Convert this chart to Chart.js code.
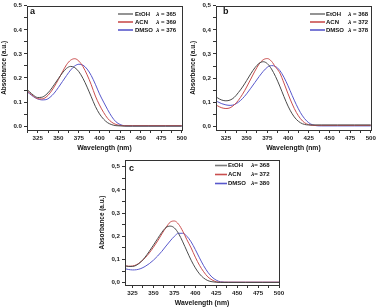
<!DOCTYPE html>
<html>
<head>
<meta charset="utf-8">
<script src="https://cdn.jsdelivr.net/npm/chart.js@4"></script>
<style>
  body { margin: 0; background: #fff; width: 378px; height: 307px; position: relative; overflow: hidden; }
  canvas { position: absolute; }
</style>
</head>
<body>
<canvas id="panelA" width="189" height="152" style="left:0px;top:0px;width:189px;height:152px"></canvas>
<canvas id="panelB" width="189" height="152" style="left:189px;top:0px;width:189px;height:152px"></canvas>
<canvas id="panelC" width="189" height="155" style="left:98px;top:152px;width:189px;height:155px"></canvas>
<script>
// wavelength grid (nm)
const wavelength = [312, 315, 320, 325, 330, 335, 340, 345, 350, 355, 360, 365, 370, 375, 380, 385, 390, 395, 400, 405, 410, 415, 420, 425, 430, 440, 460, 480, 500];

// panel a
const etohA = [0.152, 0.143, 0.128, 0.119, 0.120, 0.130, 0.148, 0.172, 0.197, 0.221, 0.240, 0.248, 0.243, 0.226, 0.198, 0.162, 0.122, 0.082, 0.051, 0.029, 0.014, 0.006, 0.002, 0.001, 0, 0, 0, 0, 0];
const acnA  = [0.147, 0.138, 0.124, 0.114, 0.113, 0.120, 0.138, 0.163, 0.193, 0.225, 0.255, 0.274, 0.280, 0.270, 0.247, 0.213, 0.172, 0.125, 0.088, 0.057, 0.032, 0.016, 0.007, 0.003, 0.002, 0.002, 0.002, 0.002, 0.002];
const dmsoA = [0.143, 0.135, 0.122, 0.113, 0.109, 0.110, 0.120, 0.137, 0.160, 0.185, 0.210, 0.233, 0.250, 0.257, 0.253, 0.237, 0.210, 0.174, 0.134, 0.100, 0.068, 0.039, 0.018, 0.007, 0.002, 0.001, 0.001, 0.001, 0.001];

// panel b
const etohB = [0.126, 0.118, 0.109, 0.106, 0.109, 0.120, 0.140, 0.163, 0.190, 0.218, 0.243, 0.261, 0.268, 0.260, 0.238, 0.206, 0.167, 0.124, 0.084, 0.052, 0.029, 0.015, 0.008, 0.006, 0.006, 0.006, 0.006, 0.006, 0.006];
const acnB  = [0.092, 0.085, 0.077, 0.074, 0.077, 0.089, 0.108, 0.133, 0.163, 0.196, 0.229, 0.258, 0.276, 0.281, 0.270, 0.245, 0.222, 0.180, 0.135, 0.093, 0.058, 0.032, 0.015, 0.007, 0.004, 0.004, 0.004, 0.004, 0.004];
const dmsoB = [0.108, 0.102, 0.094, 0.089, 0.087, 0.090, 0.100, 0.115, 0.135, 0.158, 0.182, 0.206, 0.228, 0.245, 0.252, 0.248, 0.232, 0.204, 0.168, 0.128, 0.090, 0.057, 0.032, 0.015, 0.006, 0.002, 0.002, 0.002, 0.002];

// panel c
const etohC = [0.080, 0.075, 0.070, 0.070, 0.076, 0.090, 0.110, 0.135, 0.162, 0.190, 0.217, 0.238, 0.244, 0.236, 0.212, 0.176, 0.136, 0.097, 0.064, 0.038, 0.020, 0.009, 0.004, 0.002, 0.001, 0.001, 0.001, 0.001, 0.001];
const acnC  = [0.077, 0.074, 0.071, 0.072, 0.078, 0.090, 0.107, 0.128, 0.153, 0.180, 0.210, 0.238, 0.261, 0.266, 0.252, 0.222, 0.185, 0.150, 0.110, 0.075, 0.047, 0.025, 0.012, 0.004, 0.002, 0.002, 0.002, 0.002, 0.002];
const dmsoC = [0.064, 0.061, 0.057, 0.055, 0.056, 0.061, 0.070, 0.082, 0.097, 0.115, 0.135, 0.158, 0.180, 0.200, 0.213, 0.213, 0.200, 0.176, 0.143, 0.107, 0.073, 0.045, 0.024, 0.011, 0.004, 0.002, 0.002, 0.002, 0.002];

const solvents = ["EtOH", "ACN", "DMSO"];
const lambdaA = [" = 365", " = 369", " = 376"];
const lambdaB = [" = 368", " = 372", " = 378"];
const lambdaC = ["= 368", "= 372", "= 380"];

const xMajor = [325, 350, 375, 400, 425, 450, 475, 500];
const xLabels = ["325", "350", "375", "400", "425", "450", "475", "500"];
const yMajor = [0, 0.1, 0.2, 0.3, 0.4, 0.5];
const yLabelsDot = ["0.0", "0.1", "0.2", "0.3", "0.4", "0.5"];
const yLabelsComma = ["0,0", "0,1", "0,2", "0,3", "0,4", "0,5"];

const colors = ["#4b4b4b", "#c94e4e", "#5858cc"];
const legendColors = ["#7a7a7a", "#c94e4e", "#5858cc"];
const FONT = "'Liberation Sans', Arial, sans-serif";

function panel(id, letter, series, lambdas, yLabels, cfg) {
  const xTicks = [];
  for (let v = 312.5; v <= 500; v += 12.5) if (v >= cfg.xMin) xTicks.push(v);
  const yTicks = [];
  for (let k = 0; k <= 10; k++) yTicks.push(k * 0.05);

  const decor = {
    id: 'decor_' + id,
    afterDraw(chart) {
      const ctx = chart.ctx;
      const a = chart.chartArea;
      ctx.save();
      ctx.strokeStyle = '#333';
      ctx.lineWidth = 1;
      ctx.strokeRect(Math.round(a.left) + 0.5, Math.round(a.top) + 0.5,
        Math.round(a.right - a.left), Math.round(a.bottom - a.top));

      // panel letter
      ctx.fillStyle = '#111';
      ctx.font = "bold 9px " + FONT;
      ctx.textBaseline = 'middle';
      ctx.fillText(letter, cfg.letter[0], cfg.letter[1]);

      // legend
      for (let i = 0; i < 3; i++) {
        const y = cfg.leg.y0 + i * cfg.leg.gap;
        ctx.strokeStyle = legendColors[i];
        ctx.lineWidth = 1.6;
        ctx.beginPath();
        ctx.moveTo(cfg.leg.l0, y);
        ctx.lineTo(cfg.leg.l1, y);
        ctx.stroke();
        ctx.fillStyle = '#111';
        ctx.font = "bold 6px " + FONT;
        ctx.fillText(solvents[i], cfg.leg.t, y);
        ctx.font = "italic bold 6px " + FONT;
        ctx.fillText("λ", cfg.leg.lam, y);
        const w = ctx.measureText("λ").width;
        ctx.font = "bold 6px " + FONT;
        ctx.fillText(lambdas[i], cfg.leg.lam + w, y);
      }
      ctx.restore();
    }
  };

  new Chart(document.getElementById(id), {
    type: 'line',
    data: {
      datasets: series.map((s, i) => ({
        label: solvents[i],
        data: wavelength.map((w, j) => ({ x: w, y: s[j] })),
        borderColor: colors[i],
        borderWidth: 1,
        pointRadius: 0,
        cubicInterpolationMode: 'monotone',
        fill: false
      }))
    },
    options: {
      responsive: false,
      animation: false,
      events: [],
      layout: { padding: { left: 0, top: cfg.top, right: cfg.right, bottom: 0 } },
      plugins: { legend: { display: false }, tooltip: { enabled: false } },
      scales: {
        x: {
          type: 'linear',
          min: cfg.xMin,
          max: 500,
          afterBuildTicks: (sc) => { sc.ticks = xTicks.map(v => ({ value: v })); },
          afterFit: (sc) => { sc.height = cfg.xH; },
          border: { display: false },
          grid: { drawOnChartArea: false, tickLength: 3, color: '#333' },
          ticks: {
            autoSkip: false, maxRotation: 0, padding: 2, color: '#222',
            font: { family: FONT, size: 6.2, weight: 'bold' },
            callback: (v) => { const k = xMajor.indexOf(v); return k < 0 ? '' : xLabels[k]; }
          },
          title: { display: true, text: 'Wavelength (nm)', color: '#111', padding: 0,
            font: { family: FONT, size: 6.8, weight: 'bold' } }
        },
        y: {
          min: cfg.yMin,
          max: cfg.yMax,
          afterBuildTicks: (sc) => { sc.ticks = yTicks.map(v => ({ value: v })); },
          afterFit: (sc) => { sc.width = 27; },
          border: { display: false },
          grid: { drawOnChartArea: false, tickLength: 3, color: '#333' },
          ticks: {
            autoSkip: false, padding: 2, color: '#222',
            font: { family: FONT, size: 6.2, weight: 'bold' },
            callback: (v) => {
              const k = yMajor.findIndex(m => Math.abs(m - v) < 1e-6);
              return k < 0 ? '' : yLabels[k];
            }
          },
          title: { display: true, text: 'Absorbance (a.u.)', color: '#111', padding: 0,
            font: { family: FONT, size: 6.4, weight: 'bold' } }
        }
      }
    },
    plugins: [decor]
  });
}

panel('panelA', 'a', [etohA, acnA, dmsoA], lambdaA, yLabelsDot, {
  xMin: 312, yMin: -0.016, yMax: 0.5, top: 2, right: 7, xH: 22,
  letter: [30, 12], leg: { y0: 14, gap: 8, l0: 118, l1: 133, t: 135, lam: 156 }
});
panel('panelB', 'b', [etohB, acnB, dmsoB], lambdaB, yLabelsComma, {
  xMin: 313, yMin: -0.015, yMax: 0.5, top: 2, right: 7, xH: 22,
  letter: [34, 12], leg: { y0: 14, gap: 8, l0: 121, l1: 136, t: 137, lam: 159 }
});
panel('panelC', 'c', [etohC, acnC, dmsoC], lambdaC, yLabelsComma, {
  xMin: 316, yMin: -0.01, yMax: 0.529, top: 8, right: 8, xH: 22,
  letter: [31, 17], leg: { y0: 13.5, gap: 9, l0: 117, l1: 129, t: 130, lam: 153 }
});
</script>
</body>
</html>
